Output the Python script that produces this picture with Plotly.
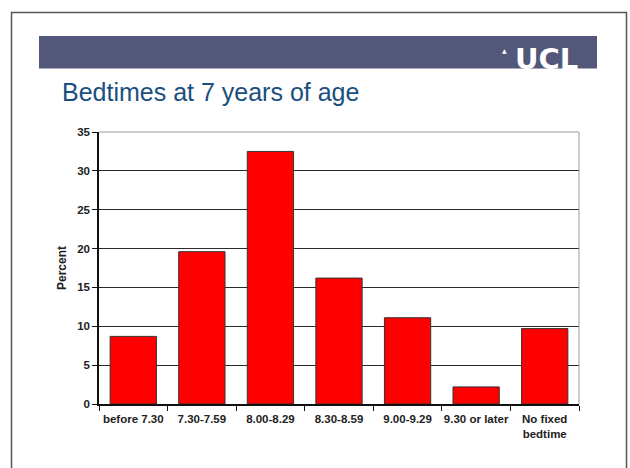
import plotly.graph_objects as go

# Bedtime categories and share of children (%) in each
categories = ["before 7.30", "7.30-7.59", "8.00-8.29", "8.30-8.59",
              "9.00-9.29", "9.30 or later", "No fixed<br>bedtime"]
percent = [8.7, 19.6, 32.5, 16.2, 11.1, 2.2, 9.7]
y_ticks = [0, 5, 10, 15, 20, 25, 30, 35]

W, H = 630, 468
L, R, T, B = 99, 51, 132, 64
PW, PH = W - L - R, H - T - B


def px_x(x):
    return (x - L) / PW


def px_y(y):
    return (H - B - y) / PH


FONT = "Liberation Sans, Arial, sans-serif"

fig = go.Figure(go.Bar(
    x=categories,
    y=percent,
    marker=dict(color="#FF0000", line=dict(color="#333333", width=1)),
    width=0.675,
))

shapes = [
    # slide frame
    dict(type="rect", xref="paper", yref="paper",
         x0=px_x(11.5), x1=px_x(626.5), y0=px_y(480), y1=px_y(12.5),
         line=dict(color="#555555", width=1.5), layer="below"),
    # header banner
    dict(type="rect", xref="paper", yref="paper",
         x0=px_x(39), x1=px_x(597), y0=px_y(68.5), y1=px_y(36),
         fillcolor="#53577A", line=dict(width=0), layer="below"),
    # plot-area border (top and right)
    dict(type="line", xref="paper", yref="paper", x0=0, x1=1, y0=1, y1=1,
         line=dict(color="#9A9A9A", width=1), layer="above"),
    dict(type="line", xref="paper", yref="paper", x0=1, x1=1, y0=0, y1=1,
         line=dict(color="#9A9A9A", width=1), layer="above"),
]

annotations = [
    dict(text="UCL", xref="paper", yref="paper", x=px_x(580), y=px_y(59),
         xanchor="right", yanchor="middle", showarrow=False,
         font=dict(family="DejaVu Sans, sans-serif", size=29, color="white",
                   weight="bold")),
    dict(text="▲", xref="paper", yref="paper", x=px_x(504), y=px_y(51),
         xanchor="center", yanchor="middle", showarrow=False,
         font=dict(family="DejaVu Sans, sans-serif", size=6, color="white")),
    dict(text="Bedtimes at 7 years of age", xref="paper", yref="paper",
         x=px_x(60), y=px_y(92), xanchor="left", yanchor="middle",
         showarrow=False,
         font=dict(family=FONT, size=25, color="#1A4F7E")),
]

fig.update_layout(
    width=W, height=H,
    margin=dict(l=L, r=R, t=T, b=B, pad=0),
    paper_bgcolor="white", plot_bgcolor="white",
    showlegend=False,
    shapes=shapes,
    annotations=annotations,
    bargap=0.325,
)

fig.update_xaxes(
    type="category",
    tickson="boundaries",
    tickangle=0,
    ticks="outside", ticklen=5, tickcolor="#111111", tickwidth=1,
    ticklabelstandoff=3,
    showline=True, linecolor="#111111", linewidth=1.5,
    showgrid=False,
    tickfont=dict(family=FONT, size=11.5, color="#222222", weight="bold"),
)

fig.update_yaxes(
    range=[0, 35],
    tickvals=y_ticks,
    ticks="outside", ticklen=5, tickcolor="#111111", tickwidth=1,
    showline=True, linecolor="#111111", linewidth=1.5,
    showgrid=True, gridcolor="#2A2A2A", gridwidth=1,
    zeroline=False,
    tickfont=dict(family=FONT, size=11.5, color="#222222", weight="bold"),
    title=dict(text="Percent", standoff=8,
               font=dict(family=FONT, size=12, color="#222222", weight="bold")),
)

fig.write_html("out.html")
